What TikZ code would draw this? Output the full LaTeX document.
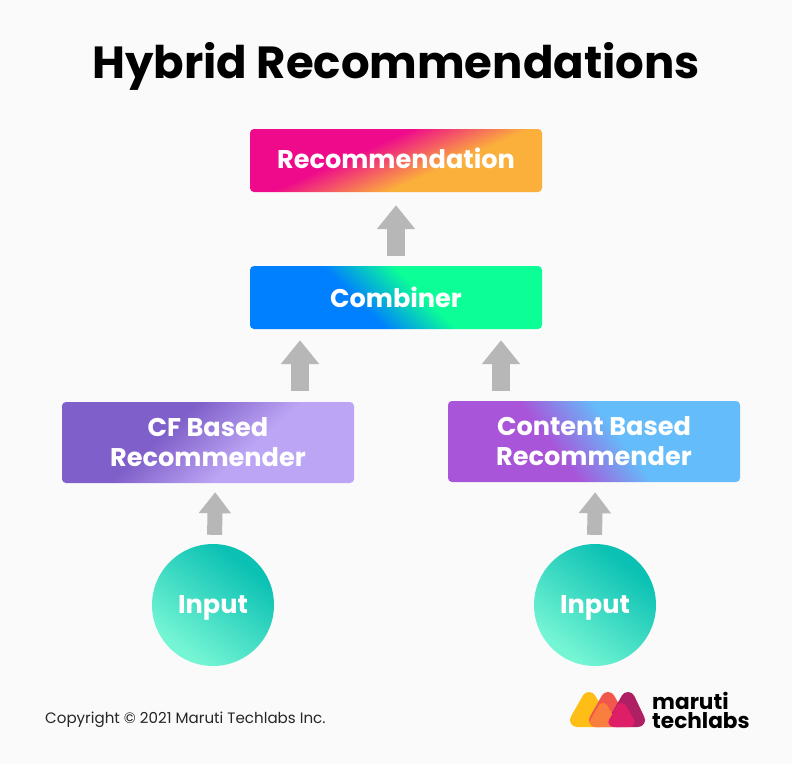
\documentclass[tikz,border=0pt]{standalone}
\usepackage{fontspec}
\setmainfont{Poppins}
\usepackage{xcolor}
\usetikzlibrary{arrows.meta, positioning, calc}
\definecolor{pagebg}{HTML}{FAFAFA}
\definecolor{arrowgray}{HTML}{B7B7B7}
\definecolor{recoA}{HTML}{EE0A8B}
\definecolor{recoB}{HTML}{FBB03B}
\definecolor{combA}{HTML}{007FFF}
\definecolor{combB}{HTML}{0BFF96}
\definecolor{cfA}{HTML}{7F5FC9}
\definecolor{cfB}{HTML}{BCA5F4}
\definecolor{contA}{HTML}{A855D9}
\definecolor{contB}{HTML}{64BDFA}
\definecolor{inA}{HTML}{0BC1B3}
\definecolor{inB}{HTML}{74F5D4}
\definecolor{logoyellow}{HTML}{FFBE16}
\definecolor{logored}{HTML}{F2574B}
\definecolor{logopurple}{HTML}{AE2063}
\definecolor{logoorange}{HTML}{F97F3E}
\definecolor{logopink}{HTML}{DE1F67}
\pgfdeclareverticalshading{recoshade}{100bp}{color(0bp)=(recoB); color(40.5bp)=(recoB); color(58.5bp)=(recoA); color(100bp)=(recoA)}
\pgfdeclareverticalshading{combshade}{100bp}{color(0bp)=(combA); color(41.5bp)=(combA); color(56bp)=(combB); color(100bp)=(combB)}
\pgfdeclareverticalshading{cfshade}{100bp}{color(0bp)=(cfB); color(41bp)=(cfB); color(60bp)=(cfA); color(100bp)=(cfA)}
\pgfdeclareverticalshading{contshade}{100bp}{color(0bp)=(contA); color(41bp)=(contA); color(56bp)=(contB); color(100bp)=(contB)}
\pgfdeclareverticalshading{inshade}{100bp}{color(0bp)=(inB); color(28bp)=(inB); color(71bp)=(inA); color(100bp)=(inA)}
\tikzset{
	box/.style={rounded corners=4pt, minimum width=292pt, text=white, align=center, inner sep=0pt,
		font=\fontsize{25.6}{30}\selectfont\bfseries},
	inputnode/.style={circle, minimum size=122pt, inner sep=0pt, text=white, shading=inshade, shading angle=-37,
		font=\fontsize{25.6}{30}\selectfont\bfseries},
	bigarrow/.style={draw=arrowgray, line width=18pt, arrows={-Triangle[width=37pt, length=24pt, fill=arrowgray]}},
	smallarrow/.style={draw=arrowgray, line width=15pt, arrows={-Triangle[width=31pt, length=21pt, fill=arrowgray]}},
	drop/.style={line join=round, line width=#1},
}
\begin{document}
\begin{tikzpicture}[x=1pt, y=-1pt]
	\fill[pagebg] (0,0) rectangle (792,764);
	\useasboundingbox (0,0) rectangle (792,764);
	\node (title) at (396,66) {\fontsize{45}{52}\selectfont\bfseries Hybrid Recommendations};
	\node (reco) [box, minimum height=63pt, shading=recoshade, shading angle=24] at (396,160.5) {\raisebox{4pt}{Recommendation}};
	\node (comb) [box, minimum height=63pt, shading=combshade, shading angle=-45] at (396,297.5) {\raisebox{1pt}{Combiner}};
	\node (cf) [box, minimum height=81pt, shading=cfshade, shading angle=42] at (208,442.5) {CF Based\\Recommender};
	\node (cont) [box, minimum height=81pt, shading=contshade, shading angle=-53] at (594,441.5) {Content Based\\Recommender};
	\node (inleft) [inputnode] at (213,605) {\raisebox{-8pt}[0pt][0pt]{Input}};
	\node (inright) [inputnode] at (595,605) {\raisebox{-8pt}[0pt][0pt]{Input}};
	% upper arrows
	\draw[bigarrow, shorten <=10pt, shorten >=13pt] (comb) -- (reco);
	\coordinate (cfout) at ($(cf.north)+(92,-11)$);
	\coordinate (contout) at ($(cont.north)+(-93,-10)$);
	\foreach \from in {cfout, contout} {
		\draw[bigarrow, shorten >=11pt] (\from) -- (\from |- comb.south);
	}
	% lower arrows
	\draw[smallarrow, shorten <=9pt, shorten >=9pt] ($(inleft.north)+(1.5,0)$) -- ($(cf.south)+(7.3,0)$);
	\draw[smallarrow, shorten <=9pt, shorten >=10pt] ($(inright.north)+(-0.5,0)$) -- ($(cont.south)+(1.3,0)$);
	\node (copy) [anchor=west, inner sep=0pt, text=black!85] at (45,720) {\fontsize{15.1}{18}\selectfont Copyright © 2021 Maruti Techlabs Inc.};
	% logo
	\filldraw[drop=14pt, logoyellow] (589,699) -- (577,720) -- (601,720) -- cycle;
	\filldraw[drop=14pt, logored] (608,699) -- (596,720) -- (620,720) -- cycle;
	\filldraw[drop=14pt, logopurple] (628,699) -- (616,720) -- (638,720) -- cycle;
	\filldraw[drop=10pt, logoorange] (603,708) -- (595,722) -- (611,722) -- cycle;
	\filldraw[drop=10pt, logopink] (621.5,708) -- (613.5,722) -- (629.5,722) -- cycle;
	\node (logo) [anchor=west, align=left, inner sep=0pt, text=black, font=\fontsize{21.6}{19}\selectfont\bfseries] at (652,710) {maruti\\techlabs};
\end{tikzpicture}
\end{document}
